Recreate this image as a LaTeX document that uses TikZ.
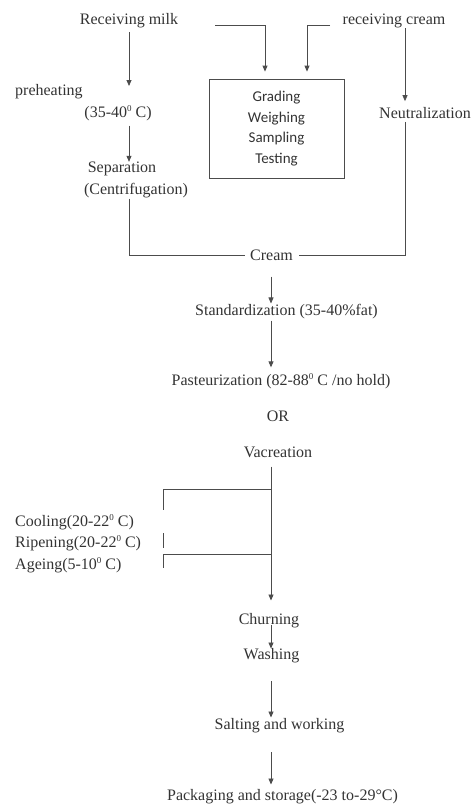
\documentclass[tikz,border=0pt]{standalone}
\usepackage{fontspec}
\setmainfont{Liberation Serif}
\newfontfamily\boxfont{Carlito}
\usetikzlibrary{arrows.meta}
\newcommand{\degz}{\raisebox{0.75ex}{\fontsize{9}{9}\selectfont 0}}
\begin{document}
\begin{tikzpicture}[x=1pt,y=-1pt,
  txt/.style={inner sep=0pt, text=black!80, font=\fontsize{16}{19}\selectfont},
  ln/.style={draw=black!70, line width=0.8pt},
  arr/.style={ln, -{Triangle[length=6pt,width=5pt]}}]
\useasboundingbox (0,0) rectangle (473,804);
% nodes
\node[txt] (milk) at (129,21) {Receiving milk};
\node[txt] (rcream) at (394,21) {receiving cream};
\node[txt,anchor=west] (preh) at (15,92) {preheating};
\node[txt] (ptemp) at (118,113) {(35-40\degz\ C)};
\node[txt] (sep) at (122,169) {Separation};
\node[txt] (cent) at (136,191) {(Centrifugation)};
\node[draw=black!70, line width=0.8pt, minimum width=135pt, minimum height=99pt,
      inner sep=0pt, text=black!80, align=center,
      font=\boxfont\fontsize{15}{20.7}\selectfont] (box) at (276.5,128.5)
      {Grading\\Weighing\\Sampling\\Testing};
\node[txt] (neut) at (425,113) {Neutralization};
\node[txt] (cream) at (271.5,255) {Cream};
\node[txt] (std) at (286.5,312) {Standardization (35-40\%fat)};
\node[txt] (past) at (281,381) {Pasteurization (82-88\degz\ C /no hold)};
\node[txt] (or) at (278,416) {OR};
\node[txt] (vac) at (278,452) {Vacreation};
\node[txt,anchor=west] (cool) at (15,522) {Cooling(20-22\degz\ C)};
\node[txt,anchor=west] (rip) at (15,543) {Ripening(20-22\degz\ C)};
\node[txt,anchor=west] (age) at (15,565) {Ageing(5-10\degz\ C)};
\node[txt] (churn) at (269,621) {Churning};
\node[txt] (wash) at (271.5,656) {Washing};
\node[txt] (salt) at (279.5,726) {Salting and working};
\node[txt] (pack) at (282.5,797) {Packaging and storage(-23 to-29°C)};
% helper coordinates
\coordinate (nx) at (405,0);
\coordinate (cx) at (271,0);
\coordinate (p1) at (129,86);
\coordinate (b1s) at (215,25);
\coordinate (b1) at (265,0);
\coordinate (b2s) at (330,25);
\coordinate (b2) at (307,0);
\coordinate (br1) at (271,489);
\coordinate (br1e) at (163,510);
\coordinate (br2s) at (163,533);
\coordinate (br2e) at (163,548);
\coordinate (br3) at (271,554);
\coordinate (br3e) at (163,568);
% connectors
\draw[arr] ([yshift=-4pt]milk.south) -- (p1);
\draw[arr] ([yshift=-5pt]ptemp.south -| milk) -- (sep.north -| milk);
\draw[ln] (cent.south -| milk) |- ([xshift=-5pt]cream.west);
\draw[arr] (rcream.south -| nx) -- ([yshift=6pt]neut.north -| nx);
\draw[ln] ([yshift=-3pt]neut.south -| nx) |- ([xshift=6pt]cream.east);
\draw[arr] (b1s) -| ([yshift=7pt]box.north -| b1);
\draw[arr] (b2s) -| ([yshift=7pt]box.north -| b2);
\draw[arr] ([yshift=-16pt]cream.south -| cx) -- ([yshift=1pt]std.north -| cx);
\draw[arr] ([yshift=-1pt]std.south -| cx) -- ([yshift=6pt]past.north -| cx);
\draw[arr] ([yshift=-9pt]vac.south -| cx) -- ([yshift=13pt]churn.north -| cx);
\draw[ln] (br1) -| (br1e);
\draw[ln] (br2s) -- (br2e);
\draw[ln] (br3) -| (br3e);
\draw[arr] ([yshift=3pt]churn.south -| cx) -- (wash.north -| cx);
\draw[arr] ([yshift=-18pt]wash.south -| cx) -- ([yshift=1pt]salt.north -| cx);
\draw[arr] ([yshift=-19pt]salt.south -| cx) -- ([yshift=5pt]pack.north -| cx);
\end{tikzpicture}
\end{document}
